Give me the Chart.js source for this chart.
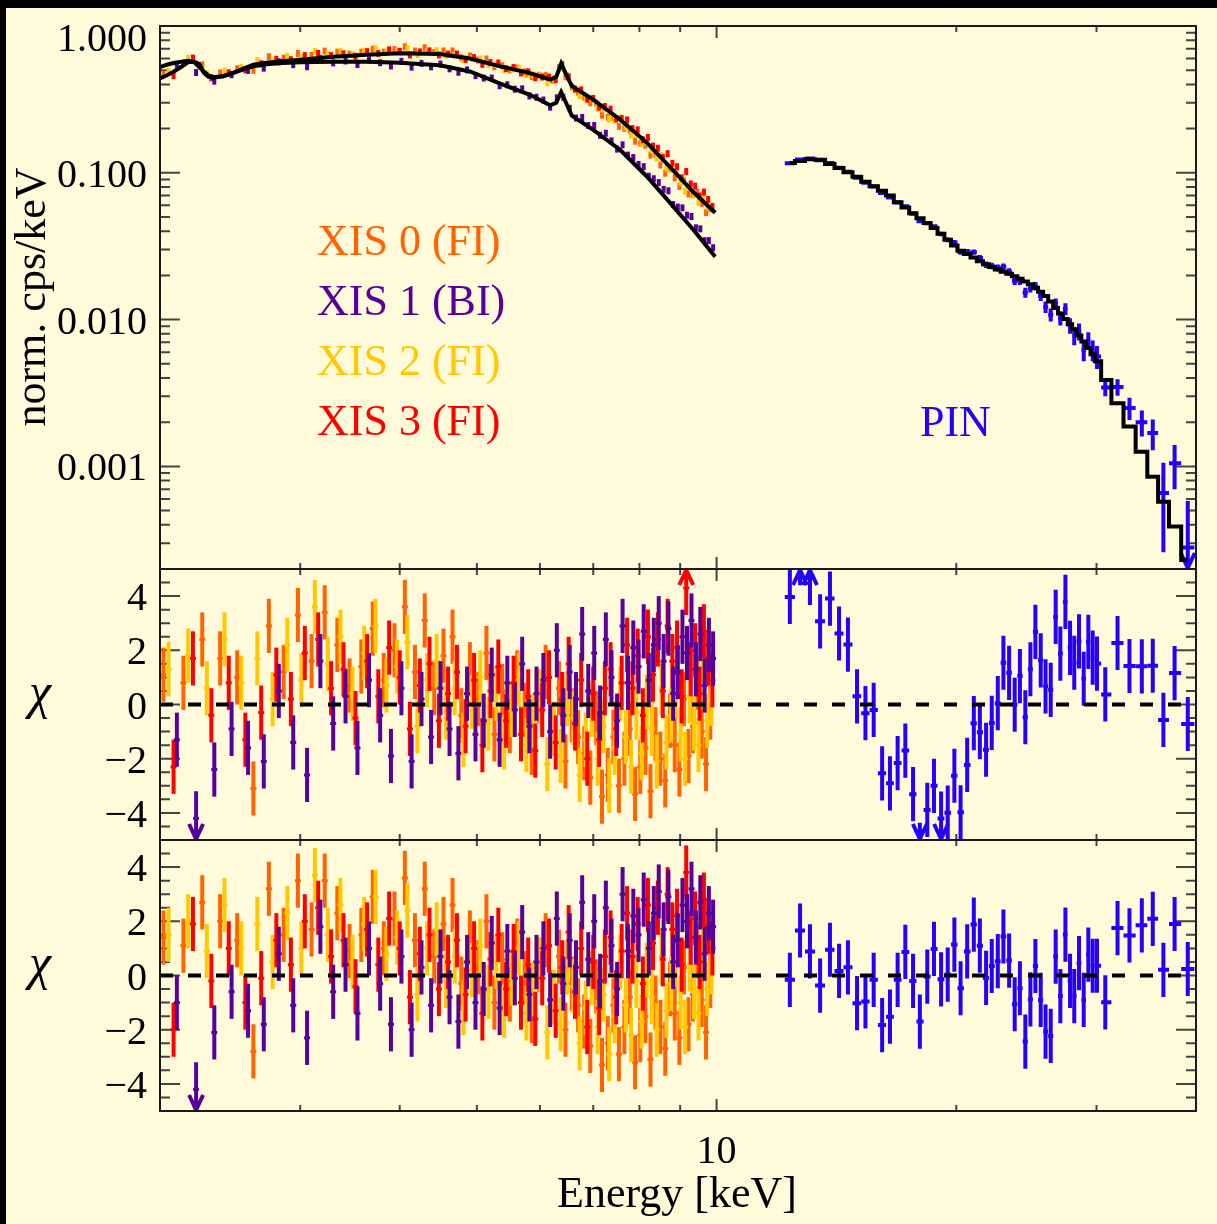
<!DOCTYPE html>
<html>
<head>
<meta charset="utf-8">
<title>Suzaku XIS + PIN spectrum</title>
<script src="https://cdn.jsdelivr.net/npm/chart.js@4.4.0/dist/chart.umd.min.js"></script>
<style>
  html, body { margin: 0; padding: 0; background: #000; }
  body { width: 1217px; height: 1224px; position: relative; overflow: hidden; }
  #sheet { position: absolute; left: 6px; top: 8px; right: 0; bottom: 0; background: #FFFAD9; }
  canvas { position: absolute; left: 0; }
</style>
</head>
<body>
<div id="sheet"></div>
<canvas id="spec" width="1217" height="600" style="top:0"></canvas>
<canvas id="res1" width="1217" height="330" style="top:540px"></canvas>
<canvas id="res2" width="1217" height="414" style="top:810px"></canvas>
<script>
/* ---- Axis ticks -------------------------------------------------- */
const energyTickValues = [10];
const energyTickLabels = ['10'];
const fluxTickValues = [0.001, 0.01, 0.1, 1];
const fluxTickLabels = ['0.001', '0.010', '0.100', '1.000'];
const chiTickValues = [-4, -2, 0, 2, 4];
const chiTickLabels = ['\u22124', '\u22122', '0', '2', '4'];

/* ---- Best-fit model curves (XIS front- and back-illuminated) ---- */
const modelEnergy = [2.00, 2.04, 2.08, 2.13, 2.17, 2.21, 2.24, 2.27, 2.30, 2.33, 2.40, 2.47, 2.55, 2.62, 2.72,
  2.85, 3.00, 3.30, 3.64, 4.00, 4.49, 4.90, 5.35, 5.83, 6.18, 6.29, 6.38, 6.47, 6.58, 7.00, 7.57, 8.18, 8.82, 9.35, 9.96];
const fiModel = [0.440, 0.462, 0.488, 0.530, 0.568, 0.571, 0.550, 0.480, 0.452, 0.444, 0.455, 0.480, 0.515, 0.545, 0.562,
  0.576, 0.589, 0.618, 0.637, 0.652, 0.645, 0.600, 0.531, 0.478, 0.432, 0.450, 0.555, 0.470, 0.390, 0.315, 0.230, 0.160, 0.104, 0.0740, 0.0535];
const biModel = [0.525, 0.545, 0.560, 0.572, 0.580, 0.565, 0.525, 0.490, 0.462, 0.448, 0.455, 0.478, 0.508, 0.532, 0.548,
  0.560, 0.566, 0.571, 0.570, 0.562, 0.540, 0.490, 0.405, 0.340, 0.288, 0.300, 0.355, 0.300, 0.245, 0.196, 0.143, 0.094, 0.059, 0.0409, 0.0268];

/* ---- XIS 0 (FI) ---- */
const xis0Energy = [2.02, 2.14, 2.26, 2.38, 2.50, 2.62, 2.74, 2.86, 2.98, 3.10, 3.22, 3.34, 3.46, 3.58, 3.70, 3.82,
  3.94, 4.06, 4.18, 4.30, 4.42, 4.54, 4.66, 4.78, 4.90, 5.02, 5.14, 5.26, 5.38, 5.50, 5.62, 5.74, 5.86, 5.98, 6.10,
  6.22, 6.34, 6.46, 6.58, 6.70, 6.82, 6.94, 7.06, 7.18, 7.30, 7.42, 7.54, 7.66, 7.78, 7.90, 8.02, 8.14, 8.26, 8.38,
  8.50, 8.62, 8.74, 8.86, 8.98, 9.10, 9.22, 9.34, 9.46, 9.58, 9.70, 9.82];
const xis0Flux = [0.470, 0.558, 0.544, 0.479, 0.512, 0.499, 0.618, 0.603, 0.649, 0.630, 0.674, 0.663, 0.643, 0.663,
  0.695, 0.664, 0.691, 0.721, 0.675, 0.711, 0.660, 0.676, 0.676, 0.607, 0.625, 0.586, 0.596, 0.528, 0.536, 0.503,
  0.517, 0.487, 0.453, 0.462, 0.459, 0.427, 0.521, 0.451, 0.386, 0.354, 0.327, 0.300, 0.299, 0.247, 0.239, 0.238,
  0.207, 0.201, 0.196, 0.164, 0.159, 0.154, 0.132, 0.133, 0.113, 0.0993, 0.107, 0.0925, 0.0807, 0.0880, 0.0717,
  0.0714, 0.0735, 0.0619, 0.0536, 0.0568];
const xis0ChiA = [1.1, 0.8, 2.4, 1.7, 1.0, -3.1, 2.9, 1.2, 3.3, 1.6, 3.4, 2.2, 0.7, 1.4, 2.8, 0.9, 2.0, 3.6, 1.2, 3.1,
  0.6, 1.8, 2.5, -0.4, 1.3, 0.2, 1.9, -1.1, 0.5, -0.8, 1.0, -0.2, -1.6, 0.3, 1.2, -0.9, 0.6, -2.1, -0.4, -1.2,
  -1.8, -2.7, -0.5, -3.4, -2.6, -1.2, -3.0, -2.0, -0.9, -3.3, -2.3, -1.6, -3.2, -1.1, -2.0, -2.8, -0.6, -1.5, -2.4, 0.2,
  -1.9, -0.8, 0.8, -1.0, -2.2, -0.3];
const xis0ChiB = [1.4, 1.1, 2.7, 2.0, 1.3, -2.8, 3.2, 1.5, 3.5, 1.7, 3.5, 2.3, 0.9, 1.5, 2.9, 1.0, 2.1, 3.6, 1.3, 3.2,
  0.7, 1.9, 2.6, -0.3, 1.4, 0.3, 2.0, -1.0, 0.6, -0.7, 1.1, -0.1, -1.5, 0.4, 1.3, -0.8, 0.7, -2.0, -0.3, -1.1,
  -1.7, -2.6, -0.4, -3.3, -2.5, -1.1, -2.9, -1.9, -0.8, -3.2, -2.2, -1.5, -3.1, -1.0, -1.9, -2.7, -0.5, -1.4, -2.3, 0.3,
  -1.8, -0.7, 0.9, -0.9, -2.1, -0.2];

/* ---- XIS 1 (BI) ---- */
const xis1Energy = [2.10, 2.22, 2.34, 2.46, 2.58, 2.70, 2.82, 2.94, 3.06, 3.18, 3.30, 3.42, 3.54, 3.66, 3.78, 3.90,
  4.02, 4.14, 4.26, 4.38, 4.50, 4.62, 4.74, 4.86, 4.98, 5.10, 5.22, 5.34, 5.46, 5.58, 5.70, 5.82, 5.94, 6.06, 6.18,
  6.30, 6.42, 6.54, 6.66, 6.78, 6.90, 7.02, 7.14, 7.26, 7.38, 7.50, 7.62, 7.74, 7.86, 7.98, 8.10, 8.22, 8.34, 8.46,
  8.58, 8.70, 8.82, 8.94, 9.06, 9.18, 9.30, 9.42, 9.54, 9.66, 9.78, 9.90];
const xis1Flux = [0.548, 0.482, 0.421, 0.466, 0.498, 0.516, 0.570, 0.545, 0.528, 0.600, 0.561, 0.578, 0.546, 0.587,
  0.562, 0.534, 0.574, 0.524, 0.556, 0.527, 0.550, 0.511, 0.484, 0.502, 0.459, 0.442, 0.442, 0.392, 0.398, 0.371,
  0.373, 0.334, 0.327, 0.313, 0.280, 0.324, 0.327, 0.275, 0.236, 0.238, 0.210, 0.210, 0.180, 0.186, 0.165, 0.145,
  0.155, 0.132, 0.127, 0.114, 0.110, 0.0948, 0.0911, 0.0858, 0.0771, 0.0754, 0.0608, 0.0584, 0.0577, 0.0514, 0.0504,
  0.0422, 0.0415, 0.0345, 0.0345, 0.0309];
const xis1ChiA = [-1.3, -4.2, -2.4, -0.9, -1.6, -2.1, 0.5, -1.4, -2.6, 1.6, -0.7, 0.3, -1.6, 0.9, -0.4, -1.9, 0.6, -2.1,
  0.2, -1.2, 0.6, -0.9, -1.8, 0.4, -1.1, -0.6, 1.1, -1.3, 0.8, -0.2, 1.5, -0.8, 0.4, 0.9, -1.0, 2.0, -0.4, 1.2, 0.2,
  2.6, 0.5, 1.9, -0.3, 2.4, 1.0, -0.6, 2.9, 0.8, 2.1, 1.4, 2.7, 0.9, 2.2, 3.0, 1.6, 2.8, 0.4, 1.2, 2.5, 1.9, 3.1,
  1.3, 2.6, 0.7, 2.2, 1.7];
const xis1ChiB = [-1.0, -4.2, -2.1, -0.6, -1.3, -1.8, 0.8, -1.1, -2.3, 1.8, -0.6, 0.4, -1.4, 1.0, -0.3, -1.8, 0.7, -2.0,
  0.3, -1.1, 0.7, -0.8, -1.7, 0.5, -1.0, -0.5, 1.2, -1.2, 0.9, -0.1, 1.6, -0.7, 0.5, 1.0, -0.9, 2.1, -0.3, 1.3, 0.3,
  2.7, 0.6, 2.0, -0.2, 2.5, 1.1, -0.5, 3.0, 0.9, 2.2, 1.5, 2.8, 1.0, 2.3, 3.1, 1.7, 2.9, 0.5, 1.3, 2.6, 2.0, 3.2,
  1.4, 2.7, 0.8, 2.3, 1.8];

/* ---- XIS 2 (FI) ---- */
const xis2Energy = [2.05, 2.17, 2.29, 2.41, 2.53, 2.65, 2.77, 2.89, 3.01, 3.13, 3.25, 3.37, 3.49, 3.61, 3.73, 3.85,
  3.97, 4.09, 4.21, 4.33, 4.45, 4.57, 4.69, 4.81, 4.93, 5.05, 5.17, 5.29, 5.41, 5.53, 5.65, 5.77, 5.89, 6.01, 6.13,
  6.25, 6.37, 6.49, 6.61, 6.73, 6.85, 6.97, 7.09, 7.21, 7.33, 7.45, 7.57, 7.69, 7.81, 7.93, 8.05, 8.17, 8.29, 8.41,
  8.53, 8.65, 8.77, 8.89, 9.01, 9.13, 9.25, 9.37, 9.49, 9.61, 9.73, 9.85];
const xis2Flux = [0.489, 0.602, 0.473, 0.494, 0.521, 0.581, 0.576, 0.620, 0.608, 0.669, 0.641, 0.671, 0.637, 0.671,
  0.697, 0.662, 0.678, 0.698, 0.636, 0.668, 0.679, 0.633, 0.637, 0.588, 0.600, 0.596, 0.548, 0.548, 0.504, 0.509,
  0.512, 0.465, 0.463, 0.458, 0.410, 0.434, 0.516, 0.459, 0.380, 0.334, 0.328, 0.319, 0.276, 0.272, 0.232, 0.230,
  0.235, 0.205, 0.181, 0.184, 0.160, 0.162, 0.143, 0.126, 0.131, 0.107, 0.105, 0.103, 0.0863, 0.0751, 0.0805,
  0.0707, 0.0628, 0.0678, 0.0585, 0.0576];
const xis2ChiA = [1.3, 1.8, 0.6, 2.4, 0.8, 1.7, 0.2, 2.2, 0.9, 3.6, 1.5, 2.5, 0.4, 1.9, 2.9, 0.7, 1.4, 2.3, -0.8, 0.9,
  1.6, -0.3, 0.6, -1.3, 0.1, 1.0, -0.7, 0.4, -1.4, -0.2, 0.9, -1.5, -0.6, 0.3, -2.2, -0.9, -1.9, 0.2, -0.5, -2.6,
  -1.3, -0.2, -2.0, -0.8, -3.0, -1.6, 0.4, -1.2, -2.3, -0.3, -1.8, 0.1, -0.9, -2.1, 0.6, -1.4, -0.4, 0.5, -1.1, -2.0,
  0.3, -0.7, -1.5, 0.8, -0.6, 0.2];
const xis2ChiB = [1.5, 2.0, 0.9, 2.6, 1.0, 1.9, 0.5, 2.3, 1.0, 3.7, 1.5, 2.6, 0.5, 1.9, 2.9, 0.8, 1.4, 2.4, -0.7, 1.0,
  1.7, -0.2, 0.7, -1.2, 0.2, 1.1, -0.6, 0.5, -1.3, -0.1, 1.0, -1.4, -0.5, 0.4, -2.1, -0.8, -1.8, 0.3, -0.4, -2.5,
  -1.2, -0.1, -1.9, -0.7, -2.9, -1.5, 0.5, -1.1, -2.2, -0.2, -1.7, 0.2, -0.8, -2.0, 0.7, -1.3, -0.3, 0.6, -1.0, -1.9,
  0.4, -0.6, -1.4, 0.9, -0.5, 0.3];

/* ---- XIS 3 (FI) ---- */
const xis3Energy = [2.08, 2.20, 2.32, 2.44, 2.56, 2.68, 2.80, 2.92, 3.04, 3.16, 3.28, 3.40, 3.52, 3.64, 3.76, 3.88,
  4.00, 4.12, 4.24, 4.36, 4.48, 4.60, 4.72, 4.84, 4.96, 5.08, 5.20, 5.32, 5.44, 5.56, 5.68, 5.80, 5.92, 6.04, 6.16,
  6.28, 6.40, 6.52, 6.64, 6.76, 6.88, 7.00, 7.12, 7.24, 7.36, 7.48, 7.60, 7.72, 7.84, 7.96, 8.08, 8.20, 8.32, 8.44,
  8.56, 8.68, 8.80, 8.92, 9.04, 9.16, 9.28, 9.40, 9.52, 9.64, 9.76, 9.88];
const xis3Flux = [0.459, 0.604, 0.444, 0.480, 0.503, 0.553, 0.593, 0.589, 0.629, 0.650, 0.629, 0.647, 0.622, 0.669,
  0.650, 0.688, 0.672, 0.635, 0.666, 0.677, 0.635, 0.644, 0.644, 0.593, 0.609, 0.548, 0.563, 0.559, 0.513, 0.521,
  0.479, 0.487, 0.444, 0.449, 0.448, 0.431, 0.545, 0.451, 0.371, 0.367, 0.317, 0.321, 0.280, 0.283, 0.271, 0.233,
  0.234, 0.229, 0.200, 0.196, 0.168, 0.174, 0.152, 0.147, 0.127, 0.135, 0.116, 0.110, 0.0923, 0.102, 0.0839,
  0.0811, 0.0695, 0.0739, 0.0658, 0.0590];
const xis3ChiA = [-2.3, 1.7, -0.4, 0.8, -1.3, -0.3, 1.1, 0.2, 1.9, 2.4, 0.6, 1.3, -0.5, 1.6, 0.3, 2.1, 1.0, -0.9, 0.7,
  1.5, -0.6, 0.4, 1.2, -0.8, 0.9, -1.5, 0.5, 1.4, -0.6, 0.8, -1.1, 0.3, -1.7, -0.2, 1.0, -1.4, 0.2, 1.5, -0.7, 0.9,
  -2.0, 0.4, -1.3, 0.6, 1.3, -0.9, 0.8, 2.2, 0.6, 1.8, -0.4, 2.5, 1.1, 2.4, 0.5, 2.9, 1.6, 2.1, 0.3, 4.3, 1.3, 2.0,
  0.4, 2.7, 1.7, 0.9];
const xis3ChiB = [-2.0, 1.9, -0.2, 1.0, -1.0, -0.1, 1.3, 0.4, 2.0, 2.5, 0.7, 1.3, -0.4, 1.7, 0.4, 2.1, 1.0, -0.8, 0.8,
  1.5, -0.5, 0.5, 1.3, -0.7, 1.0, -1.4, 0.6, 1.5, -0.5, 0.9, -1.0, 0.4, -1.6, -0.1, 1.1, -1.3, 0.3, 1.6, -0.6, 1.0,
  -1.9, 0.5, -1.2, 0.7, 1.4, -0.8, 0.9, 2.3, 0.7, 1.9, -0.3, 2.6, 1.2, 2.5, 0.6, 3.0, 1.7, 2.2, 0.4, 3.8, 1.4, 2.1,
  0.5, 2.8, 1.8, 1.0];

/* ---- HXD PIN ---- */
const pinEnergy = [12.36, 12.73, 13.10, 13.49, 13.88, 14.25, 14.62, 15.01, 15.38, 15.75, 16.14, 16.51, 16.88, 17.26,
  17.65, 18.00, 18.39, 18.75, 19.14, 19.51, 19.89, 20.25, 20.64, 21.04, 21.41, 21.80, 22.16, 22.55, 22.92, 23.30,
  23.68, 24.04, 24.42, 24.78, 25.14, 25.53, 25.89, 26.28, 26.66, 27.02, 27.42, 27.79, 28.13, 28.52, 28.91, 29.30,
  29.67, 30.04, 30.77, 31.88, 33.0, 34.2, 35.3, 36.4, 37.6, 39.06];
const pinFlux = [0.1162, 0.1232, 0.1249, 0.1219, 0.1164, 0.1083, 0.1015, 0.0925, 0.0857, 0.0808, 0.0729, 0.0679,
  0.0628, 0.0591, 0.0527, 0.0468, 0.0454, 0.0433, 0.0383, 0.0350, 0.0335, 0.0289, 0.0291, 0.0288, 0.0263, 0.0237,
  0.0232, 0.0225, 0.0229, 0.0212, 0.0184, 0.0184, 0.0153, 0.0164, 0.0169, 0.0145, 0.0122, 0.0108, 0.0128, 0.0102,
  0.0118, 0.0091, 0.0078, 0.0083, 0.0062, 0.0072, 0.0062, 0.0056, 0.00345, 0.00348, 0.00250, 0.00200, 0.00169,
  0.00066, 0.00105, 0.00028];
const pinFluxErr = [0.0016, 0.0016, 0.0016, 0.0016, 0.0015, 0.0015, 0.0015, 0.0015, 0.0014, 0.0014, 0.0014, 0.0014,
  0.0014, 0.0013, 0.0013, 0.0013, 0.0013, 0.0013, 0.0013, 0.0013, 0.0013, 0.0012, 0.0012, 0.0012, 0.0012, 0.0012,
  0.0012, 0.0012, 0.0012, 0.0012, 0.0012, 0.0012, 0.0012, 0.0011, 0.0011, 0.0011, 0.0011, 0.0011, 0.0011, 0.0011,
  0.0011, 0.0011, 0.0011, 0.0011, 0.0010, 0.0010, 0.0010, 0.0010, 0.00045, 0.00045, 0.00043, 0.00040, 0.00040,
  0.00040, 0.00035, 0.00030];
const pinModel = [0.1165, 0.1205, 0.1235, 0.1225, 0.1150, 0.1080, 0.1010, 0.0940, 0.0870, 0.0810, 0.0755, 0.0700,
  0.0630, 0.0580, 0.0530, 0.0490, 0.0455, 0.0420, 0.0385, 0.0350, 0.0320, 0.0295, 0.0280, 0.0265, 0.0250, 0.0238,
  0.0228, 0.0219, 0.0212, 0.0205, 0.0197, 0.0190, 0.0182, 0.0174, 0.0165, 0.0155, 0.0145, 0.0133, 0.0120, 0.0110,
  0.0101, 0.0093, 0.0086, 0.0078, 0.0071, 0.0064, 0.0058, 0.0052, 0.00388, 0.00269, 0.00187, 0.00126, 0.000851,
  0.000575, 0.000389, 0.00023];
const pinChiA = [3.97, 5.4, 4.67, 3.07, 3.91, 2.62, 2.21, 0.30, -0.32, -0.20, -2.54, -2.91, -2.16, -1.70, -3.31, -5.36,
  -3.89, -3.0, -4.21, -3.99, -2.63, -3.98, -2.23, -0.69, -1.02, -1.67, -0.68, 0.05, 1.54, 1.17, -0.01, 1.05, -0.47,
  1.30, 2.68, 1.63, 0.67, 0.54, 3.23, 1.88, 3.79, 2.09, 1.54, 2.33, 0.95, 2.31, 1.73, 1.51, 0.37, 2.27, 1.42, 1.41,
  1.43, -0.57, 1.16, -0.72];
const pinChiB = [-0.16, 1.66, 0.89, -0.37, 0.95, 0.17, 0.30, -1.02, -0.96, -0.16, -1.83, -1.52, -0.16, 0.87, -0.20,
  -1.70, -0.04, 0.98, -0.14, 0.03, 1.14, -0.47, 0.89, 1.88, 1.10, -0.09, 0.35, 0.53, 1.44, 0.55, -1.06, -0.47, -2.44,
  -0.88, 0.35, -0.90, -2.07, -2.23, 0.70, -0.76, 1.51, -0.20, -0.76, 0.46, -0.90, 0.77, 0.36, 0.36, -0.99, 1.75, 1.48,
  1.85, 2.09, 0.21, 1.90, 0.24];

/* ---- Styling ---- */
const COLOR = {
  xis0: '#FF6400',
  xis1: '#58009A',
  xis2: '#FFC800',
  xis3: '#FF0000',
  pin:  '#2600FF'
};
const serif = (px, style) => `${style || ''} ${px}px "Liberation Serif", "DejaVu Serif", serif`;

/* ---- Helpers ---- */
const pts = (xs, ys) => xs.map((x, i) => ({ x, y: ys[i] }));

function logMinor(min, max) {
  const out = [];
  for (let k = Math.floor(Math.log10(min)); k <= Math.ceil(Math.log10(max)); k++) {
    for (let m = 2; m <= 9; m++) {
      const v = m * Math.pow(10, k);
      if (v > min * 1.001 && v < max * 0.999) out.push(v);
    }
  }
  return out;
}

function chiMinor() {
  const out = [];
  for (let v = -4.5; v <= 4.5; v += 0.5) if (v % 2 !== 0) out.push(v);
  return out;
}

// PIN bin edges, halfway (in log) between neighbouring bin centres
const pinEdges = pinEnergy.map((e, i) => {
  const n = pinEnergy.length;
  const lo = i > 0 ? Math.sqrt(pinEnergy[i - 1] * e) : e * e / Math.sqrt(e * pinEnergy[1]);
  const hi = i < n - 1 ? Math.sqrt(e * pinEnergy[i + 1]) : e * e / Math.sqrt(pinEnergy[i - 1] * e);
  return [lo, hi];
});

/* ---- Plugins ---- */
// Vertical (and optional horizontal) error bars; arrows where a bar leaves the panel
const errorBars = {
  id: 'errorBars',
  beforeDatasetDraw(chart, args) {
    const ds = chart.data.datasets[args.index];
    if (ds.yErr === undefined) return;
    const { ctx, chartArea: a } = chart;
    const xs = chart.scales.x, ys = chart.scales.y;
    ctx.save();
    ctx.beginPath();
    ctx.rect(a.left, a.top, a.right - a.left, a.bottom - a.top);
    ctx.clip();
    ctx.strokeStyle = ds.borderColor;
    ctx.lineWidth = 4;
    ds.data.forEach((p, i) => {
      const err = Array.isArray(ds.yErr) ? ds.yErr[i] : ds.yErr;
      const px = xs.getPixelForValue(p.x);
      const lo = p.y - err, hi = p.y + err;
      ctx.beginPath();
      if (hi > ys.max) {
        ctx.moveTo(px, ys.getPixelForValue(Math.max(lo, ys.min)));
        ctx.lineTo(px, a.top);
        ctx.moveTo(px - 7, a.top + 16);
        ctx.lineTo(px, a.top + 1);
        ctx.lineTo(px + 7, a.top + 16);
      } else if (lo < ys.min) {
        ctx.moveTo(px, ys.getPixelForValue(Math.min(hi, ys.max)));
        ctx.lineTo(px, a.bottom);
        ctx.moveTo(px - 7, a.bottom - 16);
        ctx.lineTo(px, a.bottom - 1);
        ctx.lineTo(px + 7, a.bottom - 16);
      } else {
        ctx.moveTo(px, ys.getPixelForValue(lo));
        ctx.lineTo(px, ys.getPixelForValue(hi));
      }
      if (ds.xErr) {
        const py = ys.getPixelForValue(p.y);
        ctx.moveTo(xs.getPixelForValue(ds.xErr[i][0]), py);
        ctx.lineTo(xs.getPixelForValue(ds.xErr[i][1]), py);
      }
      ctx.stroke();
    });
    ctx.restore();
  }
};

// Box frame, inward ticks on all four sides, tick labels and panel texts
const panelFrame = {
  id: 'panelFrame',
  beforeDatasetsDraw(chart, args, opts) {
    const { ctx, chartArea: a } = chart;
    const xs = chart.scales.x, ys = chart.scales.y;
    ctx.save();
    ctx.strokeStyle = '#444';
    ctx.lineWidth = 2;
    ctx.beginPath();
    const vTick = (x, len) => {
      ctx.moveTo(x, a.top); ctx.lineTo(x, a.top + len);
      ctx.moveTo(x, a.bottom); ctx.lineTo(x, a.bottom - len);
    };
    const hTick = (y, len) => {
      ctx.moveTo(a.left, y); ctx.lineTo(a.left + len, y);
      ctx.moveTo(a.right, y); ctx.lineTo(a.right - len, y);
    };
    logMinor(xs.min, xs.max).forEach(e => vTick(xs.getPixelForValue(e), 6));
    energyTickValues.forEach(e => vTick(xs.getPixelForValue(e), 12));
    opts.minor.forEach(v => hTick(ys.getPixelForValue(v), 10));
    opts.major.forEach(v => hTick(ys.getPixelForValue(v), 20));
    ctx.stroke();
    ctx.restore();
  },
  afterDraw(chart, args, opts) {
    const { ctx, chartArea: a } = chart;
    const xs = chart.scales.x, ys = chart.scales.y;
    ctx.save();
    ctx.strokeStyle = '#1a1a1a';
    ctx.lineWidth = 2;
    ctx.strokeRect(a.left, a.top, a.right - a.left, a.bottom - a.top);

    ctx.fillStyle = '#000';
    ctx.font = serif(40);
    ctx.textAlign = 'right';
    ctx.textBaseline = 'alphabetic';
    opts.major.forEach((v, i) => {
      const y = Math.max(ys.getPixelForValue(v), a.top + 11);
      ctx.fillText(opts.labels[i], a.left - 13, y + 14);
    });

    if (opts.energyLabels) {
      ctx.textAlign = 'center';
      energyTickValues.forEach((e, i) => {
        ctx.fillText(energyTickLabels[i], xs.getPixelForValue(e), a.bottom + 52);
      });
    }

    (opts.texts || []).forEach(t => {
      ctx.save();
      ctx.fillStyle = t.color || '#000';
      ctx.font = serif(t.size || 44, t.style);
      ctx.textAlign = t.align || 'left';
      ctx.translate(t.x, t.y);
      if (t.rotate) ctx.rotate(t.rotate);
      ctx.fillText(t.text, 0, 0);
      ctx.restore();
    });
    ctx.restore();
  }
};

/* ---- Dataset builders ---- */
function specPoints(label, energy, flux, color, order) {
  return {
    label, order, data: pts(energy, flux), showLine: false,
    borderColor: color, backgroundColor: color, pointBorderColor: color,
    pointStyle: 'line', pointRotation: 90, pointRadius: 3.5, pointBorderWidth: 4
  };
}

function chiPoints(label, energy, chi, color, order) {
  return {
    label, order, data: pts(energy, chi), yErr: 1, showLine: false,
    borderColor: color, backgroundColor: color, pointBorderColor: color,
    pointStyle: 'line', pointRadius: 3, pointBorderWidth: 3
  };
}

function modelLine(label, energy, flux, extra) {
  return Object.assign({
    label, order: 0, data: pts(energy, flux), borderColor: '#000', borderWidth: 4,
    pointRadius: 0, fill: false
  }, extra || {});
}

function zeroLine() {
  return {
    label: 'zero', order: 0, data: [{ x: 2, y: 0 }, { x: 40, y: 0 }],
    borderColor: '#000', borderWidth: 4, borderDash: [13, 15], pointRadius: 0
  };
}

function pinChi(chi) {
  return {
    label: 'PIN', order: 1, data: pts(pinEnergy, chi), yErr: 1, xErr: pinEdges, showLine: false,
    borderColor: COLOR.pin, backgroundColor: COLOR.pin, pointRadius: 0
  };
}

function panelChart(id, datasets, yScale, padding, frame) {
  return new Chart(document.getElementById(id), {
    type: 'line',
    data: { datasets },
    options: {
      responsive: false,
      animation: false,
      devicePixelRatio: 1,
      events: [],
      layout: { padding },
      elements: { line: { tension: 0 } },
      scales: {
        x: { type: 'logarithmic', min: 2, max: 40, display: false },
        y: Object.assign({ display: false }, yScale)
      },
      plugins: {
        legend: { display: false },
        tooltip: { enabled: false },
        panelFrame: frame
      }
    },
    plugins: [errorBars, panelFrame]
  });
}

/* ---- Spectrum panel ---- */
panelChart('spec', [
  modelLine('FI model', modelEnergy, fiModel),
  modelLine('BI model', modelEnergy, biModel),
  modelLine('PIN model', pinEnergy, pinModel, { stepped: 'middle' }),
  specPoints('XIS 1', xis1Energy, xis1Flux, COLOR.xis1, 1),
  specPoints('XIS 3', xis3Energy, xis3Flux, COLOR.xis3, 2),
  specPoints('XIS 2', xis2Energy, xis2Flux, COLOR.xis2, 3),
  specPoints('XIS 0', xis0Energy, xis0Flux, COLOR.xis0, 4),
  {
    label: 'PIN', order: 1, data: pts(pinEnergy, pinFlux), yErr: pinFluxErr, xErr: pinEdges,
    showLine: false, borderColor: COLOR.pin, backgroundColor: COLOR.pin, pointRadius: 0
  }
], { type: 'logarithmic', min: 2e-4, max: 1 },
  { left: 160, right: 21, top: 26, bottom: 31 },
  {
    major: fluxTickValues, labels: fluxTickLabels, minor: logMinor(2e-4, 1),
    texts: [
      { text: 'norm. cps/keV', x: 45, y: 297, rotate: -Math.PI / 2, align: 'center' },
      { text: 'XIS 0 (FI)', x: 317, y: 255, color: COLOR.xis0 },
      { text: 'XIS 1 (BI)', x: 317, y: 315, color: COLOR.xis1 },
      { text: 'XIS 2 (FI)', x: 317, y: 375, color: COLOR.xis2 },
      { text: 'XIS 3 (FI)', x: 317, y: 435, color: COLOR.xis3 },
      { text: 'PIN', x: 920, y: 436, color: COLOR.pin }
    ]
  });

/* ---- Residual panels ---- */
function residualDatasets(c0, c1, c2, c3, cPin) {
  return [
    zeroLine(),
    chiPoints('XIS 1', xis1Energy, c1, COLOR.xis1, 1),
    pinChi(cPin),
    chiPoints('XIS 3', xis3Energy, c3, COLOR.xis3, 2),
    chiPoints('XIS 2', xis2Energy, c2, COLOR.xis2, 3),
    chiPoints('XIS 0', xis0Energy, c0, COLOR.xis0, 4)
  ];
}

panelChart('res1', residualDatasets(xis0ChiA, xis1ChiA, xis2ChiA, xis3ChiA, pinChiA),
  { type: 'linear', min: -5, max: 5 },
  { left: 160, right: 21, top: 29, bottom: 30 },
  {
    major: chiTickValues, labels: chiTickLabels, minor: chiMinor(),
    texts: [{ text: '\u03C7', x: 40, y: 168, align: 'center', size: 50, style: 'italic' }]
  });

panelChart('res2', residualDatasets(xis0ChiB, xis1ChiB, xis2ChiB, xis3ChiB, pinChiB),
  { type: 'linear', min: -5, max: 5 },
  { left: 160, right: 21, top: 30, bottom: 113 },
  {
    major: chiTickValues, labels: chiTickLabels, minor: chiMinor(), energyLabels: true,
    texts: [
      { text: '\u03C7', x: 40, y: 169, align: 'center', size: 50, style: 'italic' },
      { text: 'Energy [keV]', x: 677, y: 397, align: 'center' }
    ]
  });
</script>
</body>
</html>
